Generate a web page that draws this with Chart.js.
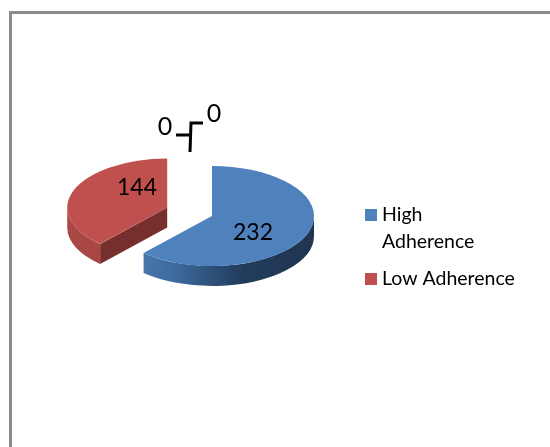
<!DOCTYPE html>
<html><head><meta charset="utf-8">
<style>html,body{margin:0;padding:0;background:#fff;overflow:hidden}#w{position:absolute;left:0;top:0;width:550px;height:447px}</style>
<script src="https://cdn.jsdelivr.net/npm/chart.js@4"></script></head>
<body><div id="w"><canvas id="c" width="550" height="447"></canvas></div>
<script>
const categories = ['High Adherence', 'Low Adherence', 'Other A', 'Other B'];
const values = [232, 144, 0, 0];
const colors = ['#4f81bd', '#c0504d', '#9bbb59', '#8064a2'];
const legendLines = [['High', 'Adherence'], ['Low Adherence']];
const explode = [0, 48];

const SQUASH = 0.49, DEPTH = 20, CY = 216;
const FONT = 'Lato, Carlito, sans-serif';

function squash(ctx){ ctx.translate(0, CY); ctx.scale(1, SQUASH); ctx.translate(0, -CY); }
function shift(el, i){
  const mid = (el.startAngle + el.endAngle) / 2, d = explode[i] || 0;
  return { dx: Math.cos(mid) * d, dy: Math.sin(mid) * d };
}

const pie3d = {
  id: 'pie3d',
  beforeDraw(chart){
    const ctx = chart.ctx;
    ctx.save();
    ctx.fillStyle = '#fff'; ctx.fillRect(0,0,550,447);
    ctx.fillStyle = '#8c8c8c';
    ctx.fillRect(9,11,541,3);
    ctx.fillRect(9,11,3,436);
    ctx.restore();
  },
  beforeDatasetDraw(chart, args){
    const ctx = chart.ctx;
    const arcs = args.meta.data;
    const wall = (el, i) => {
      const { dx, dy } = shift(el, i);
      const x = el.x + dx;
      const y = CY + (el.y - CY + dy) * SQUASH;
      const r = el.outerRadius - (i === 1 ? 2 : 0), ry = r * SQUASH;
      const a1 = Math.max(el.startAngle, 0), a2 = Math.min(el.endAngle, Math.PI);
      if (i === 1) {
        const cx = x + Math.cos(el.startAngle) * r, cy = y + Math.sin(el.startAngle) * ry;
        ctx.beginPath();
        ctx.moveTo(x, y); ctx.lineTo(cx, cy); ctx.lineTo(cx, cy + DEPTH); ctx.lineTo(x, y + DEPTH);
        ctx.closePath();
        ctx.fillStyle = '#772f2d'; ctx.fill();
      }
      if (a2 <= a1) return;
      const g = ctx.createLinearGradient(x - r, 0, x + r, 0);
      if (i === 0) {
        g.addColorStop(0, '#5380b5'); g.addColorStop(0.3, '#3f6ca0');
        g.addColorStop(0.65, '#223c5c'); g.addColorStop(1, '#1f3550');
      } else {
        g.addColorStop(0, '#aa4845'); g.addColorStop(1, '#983b39');
      }
      ctx.beginPath();
      ctx.ellipse(x, y, r, ry, 0, a1, a2);
      ctx.ellipse(x, y + DEPTH, r, ry, 0, a2, a1, true);
      ctx.closePath();
      ctx.fillStyle = g; ctx.fill();
    };
    arcs.forEach((el, i) => {
      if (values[i] <= 0) return;
      wall(el, i);
      if (explode[i] && !el._wrapped) {
        const base = el.draw;
        el._wrapped = true;
        el.draw = function(c){
          const s = shift(el, i);
          c.save();
          c.translate(el.x + s.dx, el.y + s.dy);
          c.scale(0.98, 0.98);
          c.translate(-el.x, -el.y);
          base.call(el, c);
          c.restore();
        };
      }
    });
    ctx.save();
    squash(ctx);
  },
  afterDatasetDraw(chart){ chart.ctx.restore(); },
  afterDraw(chart){
    const ctx = chart.ctx;
    const o = chart.getDatasetMeta(0).data[0];
    ctx.save();
    ctx.fillStyle = '#000';
    ctx.textBaseline = 'middle';
    ctx.font = '23px ' + FONT; ctx.textAlign = 'center';
    ctx.fillText(String(values[0]), o.x + 41, CY + 17);
    ctx.fillText(String(values[1]), o.x - 75, CY - 28);
    ctx.font = '25px ' + FONT;
    ctx.fillText(String(values[2]), o.x - 47, CY - 89);
    ctx.fillText(String(values[3]), o.x + 2, CY - 102);
    ctx.strokeStyle = '#000'; ctx.lineWidth = 3;
    ctx.beginPath();
    ctx.moveTo(o.x - 36, CY - 81); ctx.lineTo(o.x - 23, CY - 81);
    ctx.moveTo(o.x - 22, CY - 64); ctx.lineTo(o.x - 21, CY - 93); ctx.lineTo(o.x - 9, CY - 93);
    ctx.stroke();
    ctx.font = '19.5px ' + FONT; ctx.textAlign = 'left';
    const ys = [215, 279];
    legendLines.forEach((lines, i) => {
      ctx.fillStyle = colors[i];
      ctx.fillRect(365, ys[i] - 6, 12, 12);
      ctx.fillStyle = '#000';
      lines.forEach((t, j) => ctx.fillText(t, 382, ys[i] + j * 27));
    });
    ctx.restore();
  }
};

new Chart(document.getElementById('c'), {
  type: 'pie',
  data: { labels: categories, datasets: [{ data: values, backgroundColor: colors, borderWidth: 0, clip: false }] },
  options: {
    responsive: false, animation: false,
    layout: { padding: { left: 110, right: 236, top: CY - 102, bottom: 447 - CY - 102 } },
    plugins: { legend: { display: false }, tooltip: { enabled: false } }
  },
  plugins: [pie3d]
});
</script></body></html>
